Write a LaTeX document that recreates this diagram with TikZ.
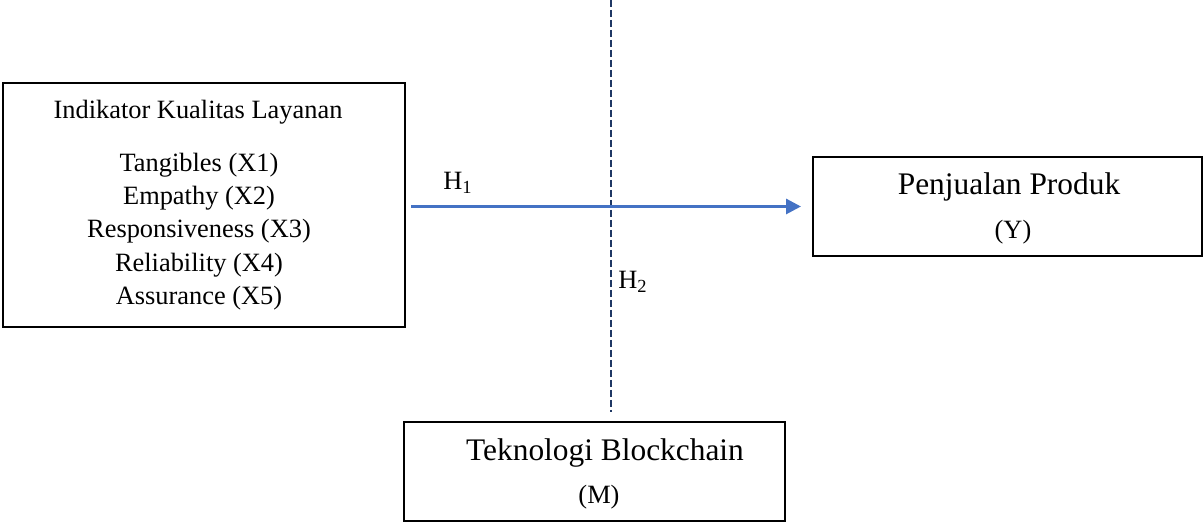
\documentclass[tikz,border=0pt]{standalone}
\usepackage{fontspec}
\setmainfont{Liberation Serif}
\usetikzlibrary{arrows.meta,positioning}

\definecolor{hblue}{RGB}{68,114,196}
\definecolor{hnavy}{RGB}{31,56,100}

\begin{document}
\begin{tikzpicture}[x=0.5pt,y=0.5pt,inner sep=0pt,
  box/.style={draw,line width=1pt},
  bigtxt/.style={font=\fontsize{15.7}{18}\selectfont},
  smalltxt/.style={font=\fontsize{13.2}{16.65}\selectfont,align=center},
  harrow/.style={draw=hblue,line width=1.5pt,-{Triangle[length=7.5pt,width=7.5pt]},
    shorten <=2.5pt,shorten >=5.5pt},
  hdash/.style={draw=hnavy,line width=1pt,dash pattern=on 3.5pt off 1.5pt}]
\useasboundingbox (0,0) rectangle (1204,523);

% boxes
\node[box,minimum width=201pt,minimum height=122pt] (X) at (204,318) {};
\node[box,minimum width=194.5pt,minimum height=49.5pt] (Y) at (1007.5,316.5) {};
\node[box,minimum width=190.5pt,minimum height=49.5pt] (M) at (594.5,51.5) {};

% texts
\node[smalltxt] (Xtitle) at (198,411) {Indikator Kualitas Layanan};
\node[smalltxt] (Xlist) at (199,291.5) {Tangibles (X1)\\Empathy (X2)\\Responsiveness (X3)\\Reliability (X4)\\Assurance (X5)};
\node[bigtxt] (Ytitle) at (1009,336) {Penjualan Produk};
\node[smalltxt] (Ysub) at (1013,291) {(Y)};
\node[bigtxt] (Mtitle) at (605,70) {Teknologi Blockchain};
\node[smalltxt] (Msub) at (599,26) {(M)};

% paths
\coordinate (top) at (611,523);
\draw[hdash] (top) -- (top |- M.north) [shorten >=4.5pt];
\draw[harrow] (X.east |- Y.west) -- (Y.west);

\node[smalltxt] (H1) at (458,340) {H\textsubscript{1}};
\node[smalltxt] (H2) at (633,241) {H\textsubscript{2}};

\end{tikzpicture}
\end{document}
